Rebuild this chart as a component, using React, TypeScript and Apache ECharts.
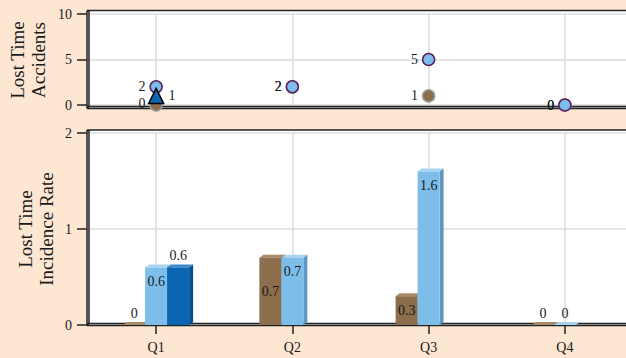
import React, { useEffect, useRef } from "react";
import * as echarts from "echarts";

const quarters = ["Q1", "Q2", "Q3", "Q4"];
// Top panel: Lost Time Accidents
const accBlue = [2, 2, 5, 0];
const accBrown = [0, 2, 1, 0];
const accTriangle: (number | null)[] = [1, null, null, null];
// Bottom panel: Lost Time Incidence Rate
const rateBrown = [0, 0.7, 0.3, 0];
const rateLight = [0.6, 0.7, 1.6, 0];
const rateDark: (number | null)[] = [0.6, null, null, null];
// Axis titles
const topTitle = "Lost Time\nAccidents";
const bottomTitle = "Lost Time\nIncidence Rate";

const FONT = "Liberation Serif";
const TXT = "#1a1a1a";
const BG = "#FDE6D2";

const BROWN = { front: "#8C6D4C", top: "#A88A68", side: "#6E5438" };
const LIGHT = { front: "#7DBDEA", top: "#A9D3F1", side: "#5D97C2" };
const DARK = { front: "#0A66B3", top: "#3B88CA", side: "#074E8C" };

const BAR_W = 22;

function faces(values: (number | null)[], k: number, c: { top: string; side: string }) {
  return {
    type: "custom",
    xAxisIndex: 1,
    yAxisIndex: 1,
    z: 1,
    silent: true,
    data: values.map((v, i) => [i, v]).filter((d) => d[1] != null),
    renderItem: (params: any, api: any) => {
      const i = api.value(0);
      const v = api.value(1);
      const p = api.coord([i, v]);
      const b = api.coord([i, 0]);
      const x0 = p[0] - 1.5 * BAR_W + k * BAR_W;
      const x1 = x0 + BAR_W;
      const yt = p[1];
      const yb = b[1];
      const dx = 4;
      const dy = 3;
      return {
        type: "group",
        children: [
          {
            type: "polygon",
            shape: { points: [[x0, yt], [x1, yt], [x1 + dx, yt - dy], [x0 + dx, yt - dy]] },
            style: { fill: c.top },
          },
          {
            type: "polygon",
            shape: { points: [[x1, yt], [x1 + dx, yt - dy], [x1 + dx, yb - dy], [x1, yb]] },
            style: { fill: c.side },
          },
        ],
      };
    },
  };
}

function barData(values: (number | null)[], pos: string, dist: number) {
  return values.map((v) =>
    v == null
      ? "-"
      : { value: v, label: v === 0 ? { position: "top", distance: 5 } : { position: pos, distance: dist } }
  );
}

function box(x0: number, y0: number, x1: number, y1: number) {
  return [
    { type: "rect", z: -100, shape: { x: x0, y: y0, width: x1 - x0, height: y1 - y0 }, style: { fill: "#fff" } },
    { type: "line", z: 1, shape: { x1: x0, y1: y0, x2: x1, y2: y0 }, style: { stroke: "#222", lineWidth: 1.5 } },
    { type: "line", z: 1, shape: { x1: x0 + 1, y1: y0, x2: x0 + 1, y2: y1 }, style: { stroke: "#222", lineWidth: 3.5 } },
    { type: "line", z: 1, shape: { x1: x0 + 1, y1: y0 + 1, x2: x0 + 1, y2: y1 - 2 }, style: { stroke: "#8a8a8a", lineWidth: 1 } },
    { type: "line", z: 1, shape: { x1: x0, y1: y1 - 1, x2: x1, y2: y1 - 1 }, style: { stroke: "#222", lineWidth: 3.5 } },
    { type: "line", z: 1, shape: { x1: x0 + 2, y1: y1 - 1, x2: x1, y2: y1 - 1 }, style: { stroke: "#8a8a8a", lineWidth: 1 } },
  ];
}

function vTitle(text: string, x: number, y: number) {
  return {
    type: "text",
    x,
    y,
    rotation: Math.PI / 2,
    z: 5,
    style: {
      text,
      fontFamily: FONT,
      fontSize: 19,
      lineHeight: 21,
      fill: TXT,
      align: "center",
      verticalAlign: "middle",
    },
  };
}

export default function App() {
  const ref = useRef<HTMLDivElement>(null);
  useEffect(() => {
    document.body.style.margin = "0";
    const chart = echarts.init(ref.current!, null, { renderer: "svg" });
    const axisTextStyle = { fontFamily: FONT, fontSize: 14, color: TXT };
    const splitLine = { show: true, lineStyle: { color: "#DCDCDC", width: 1.5 } };
    const scatterLabel = (pos: string) => ({
      show: true,
      position: pos,
      distance: 4,
      fontFamily: FONT,
      fontSize: 14,
      color: TXT,
    });
    const barLabel = { show: true, fontFamily: FONT, fontSize: 14, color: TXT };

    chart.setOption({
      animation: false,
      backgroundColor: BG,
      graphic: [
        ...box(87, 10.5, 630, 108.5),
        ...box(87, 130, 630, 325.5),
        vTitle(topTitle, 28, 60),
        vTitle(bottomTitle, 35.5, 229),
      ],
      grid: [
        { left: 88, width: 545, top: 14, height: 91, outerBoundsMode: "none", containLabel: false },
        { left: 88, width: 545, top: 133, height: 192, outerBoundsMode: "none", containLabel: false },
      ],
      xAxis: [
        {
          type: "category",
          gridIndex: 0,
          data: quarters,
          axisLine: { show: false },
          axisTick: { show: false },
          axisLabel: { show: false },
          splitLine: { ...splitLine, alignWithLabel: true },
        },
        {
          type: "category",
          gridIndex: 1,
          data: quarters,
          axisLine: { show: false },
          axisTick: { show: true, alignWithLabel: true, length: 9, lineStyle: { color: "#222", width: 1.5 } },
          axisLabel: { ...axisTextStyle, margin: 15 },
          splitLine: { ...splitLine, alignWithLabel: true },
        },
      ],
      yAxis: [
        {
          type: "value",
          gridIndex: 0,
          min: 0,
          max: 10,
          interval: 5,
          axisLine: { show: false },
          axisTick: { show: true, length: 11, lineStyle: { color: "#222", width: 1.5 } },
          axisLabel: { ...axisTextStyle, margin: 16 },
          splitLine,
        },
        {
          type: "value",
          gridIndex: 1,
          min: 0,
          max: 2,
          interval: 1,
          axisLine: { show: false },
          axisTick: { show: true, length: 11, lineStyle: { color: "#222", width: 1.5 } },
          axisLabel: { ...axisTextStyle, margin: 16 },
          splitLine,
        },
      ],
      series: [
        {
          type: "scatter",
          xAxisIndex: 0,
          yAxisIndex: 0,
          z: 3,
          symbol: "circle",
          symbolSize: 12,
          data: accBrown.map((v, i) =>
            accTriangle[i] != null ? { value: v, label: { offset: [0, -2] } } : v
          ),
          itemStyle: { color: BROWN.front, borderColor: "#9a9a9a", borderWidth: 1.5, opacity: 1 },
          label: scatterLabel("left"),
        },
        {
          type: "scatter",
          xAxisIndex: 0,
          yAxisIndex: 0,
          z: 3,
          symbol: "circle",
          symbolSize: 12,
          data: accBlue,
          itemStyle: { color: LIGHT.front, borderColor: "#5B1E5E", borderWidth: 1.5, opacity: 1 },
          label: scatterLabel("left"),
        },
        {
          type: "scatter",
          xAxisIndex: 0,
          yAxisIndex: 0,
          z: 3,
          symbol: "triangle",
          symbolSize: 15,
          data: accTriangle.map((v) => (v == null ? "-" : v)),
          itemStyle: { color: DARK.front, borderColor: "#000", borderWidth: 1.5, opacity: 1 },
          label: scatterLabel("right"),
        },
        faces(rateBrown, 0, BROWN),
        faces(rateLight, 1, LIGHT),
        faces(rateDark, 2, DARK),
        {
          type: "bar",
          xAxisIndex: 1,
          yAxisIndex: 1,
          barWidth: BAR_W,
          barGap: "0%",
          data: barData(rateBrown, "inside", 5),
          itemStyle: { color: BROWN.front },
          label: barLabel,
        },
        {
          type: "bar",
          xAxisIndex: 1,
          yAxisIndex: 1,
          barWidth: BAR_W,
          barGap: "0%",
          data: barData(rateLight, "insideTop", 7),
          itemStyle: { color: LIGHT.front },
          label: barLabel,
        },
        {
          type: "bar",
          xAxisIndex: 1,
          yAxisIndex: 1,
          barWidth: BAR_W,
          barGap: "0%",
          data: barData(rateDark, "top", 5),
          itemStyle: { color: DARK.front },
          label: barLabel,
        },
      ],
    });
    return () => chart.dispose();
  }, []);
  return <div ref={ref} style={{ width: 626, height: 358 }} />;
}
